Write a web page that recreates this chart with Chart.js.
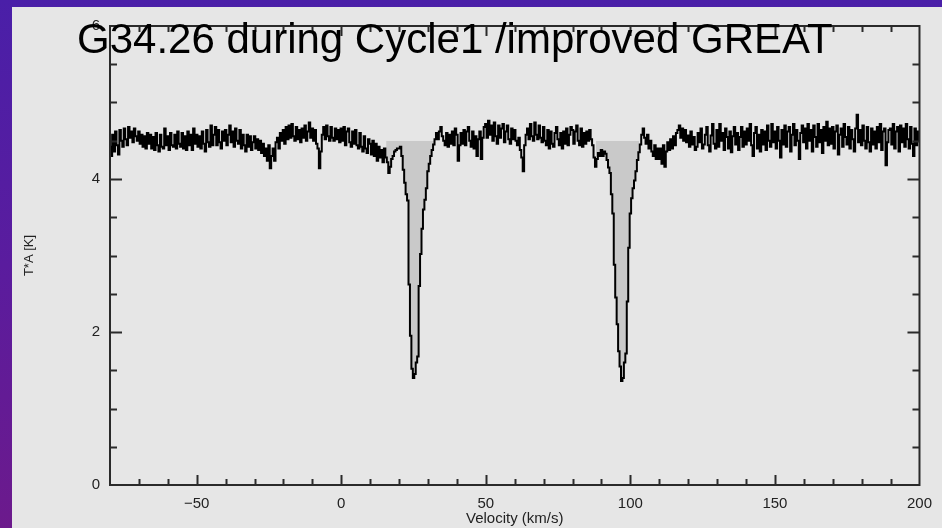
<!DOCTYPE html>
<html>
<head>
<meta charset="utf-8">
<script src="https://cdn.jsdelivr.net/npm/chart.js@4.4.1/dist/chart.umd.min.js"></script>
<style>
  html, body { margin: 0; padding: 0; overflow: hidden; }
  body {
    width: 942px; height: 528px;
    background: linear-gradient(180deg, #4a1fa8 0%, #5a1c9e 50%, #6c1a8c 100%);
    position: relative;
  }
  #spectrum { position: absolute; left: 12px; top: 7px; background: #e6e6e6; }
</style>
</head>
<body>
<canvas id="spectrum" width="930" height="521"></canvas>
<script>
// spectrum channels: -80 .. 200 km/s in 0.5 km/s steps
const velocityStart = -80;
const velocityStep = 0.5;
const tempA = [
  4.42,4.30,4.58,4.36,4.62,4.44,4.32,4.64,4.50,4.42,4.66,4.52,4.44,4.68,4.54,4.62,4.48,4.66,4.56,4.50, // -80
  4.62,4.46,4.58,4.42,4.56,4.40,4.60,4.46,4.58,4.40,4.55,4.38,4.60,4.44,4.36,4.58,4.42,4.40,4.66,4.44, // -70
  4.56,4.38,4.60,4.44,4.42,4.58,4.40,4.62,4.46,4.42,4.60,4.40,4.56,4.38,4.62,4.44,4.58,4.38,4.66,4.46, // -60
  4.58,4.42,4.56,4.40,4.62,4.46,4.36,4.64,4.48,4.42,4.70,4.44,4.58,4.68,4.44,4.64,4.48,4.40,4.62,4.50, // -50
  4.64,4.44,4.58,4.70,4.48,4.62,4.42,4.66,4.50,4.46,4.64,4.40,4.58,4.44,4.36,4.58,4.42,4.56,4.38,4.48, // -40
  4.56,4.40,4.52,4.38,4.50,4.34,4.46,4.30,4.40,4.24,4.44,4.14,4.30,4.40,4.24,4.48,4.54,4.40,4.60,4.50, // -30
  4.64,4.46,4.68,4.52,4.70,4.54,4.72,4.56,4.50,4.68,4.52,4.64,4.48,4.66,4.54,4.70,4.50,4.62,4.74,4.54, // -20
  4.66,4.50,4.64,4.46,4.40,4.14,4.36,4.58,4.68,4.52,4.70,4.56,4.50,4.68,4.54,4.50,4.66,4.52,4.64,4.48, // -10
  4.66,4.50,4.68,4.44,4.62,4.66,4.48,4.42,4.62,4.46,4.64,4.44,4.40,4.60,4.42,4.36,4.56,4.40,4.34,4.52, // 0
  4.46,4.32,4.50,4.30,4.46,4.24,4.42,4.28,4.38,4.22,4.40,4.28,4.22,4.08,4.16,4.26,4.30,4.36,4.38,4.40, // 10
  4.40,4.42,4.30,4.12,3.95,3.80,3.72,2.62,1.95,1.52,1.40,1.45,1.60,1.68,2.60,3.02,3.35,3.60,3.73,3.88, // 20
  4.10,4.20,4.30,4.38,4.45,4.52,4.60,4.52,4.62,4.68,4.56,4.50,4.44,4.60,4.42,4.58,4.46,4.62,4.44,4.66, // 30
  4.58,4.24,4.44,4.60,4.46,4.64,4.44,4.62,4.68,4.50,4.42,4.62,4.40,4.56,4.30,4.52,4.62,4.26,4.54,4.68, // 40
  4.72,4.54,4.76,4.58,4.70,4.50,4.74,4.56,4.46,4.70,4.54,4.66,4.72,4.48,4.62,4.70,4.52,4.46,4.66,4.52, // 50
  4.64,4.50,4.44,4.54,4.38,4.28,4.10,4.44,4.58,4.66,4.52,4.72,4.56,4.50,4.74,4.58,4.52,4.70,4.54,4.48, // 60
  4.68,4.50,4.44,4.64,4.40,4.62,4.46,4.42,4.60,4.68,4.52,4.44,4.60,4.40,4.62,4.46,4.66,4.44,4.58,4.68, // 70
  4.64,4.46,4.62,4.70,4.50,4.44,4.66,4.42,4.60,4.46,4.62,4.50,4.64,4.52,4.44,4.28,4.16,4.26,4.34,4.30, // 80
  4.38,4.30,4.36,4.33,4.25,4.15,4.08,3.80,3.55,2.88,2.45,2.10,1.75,1.55,1.36,1.40,1.60,1.72,2.40,3.10, // 90
  3.55,3.75,3.88,3.98,4.10,4.25,4.35,4.45,4.58,4.66,4.54,4.46,4.58,4.40,4.50,4.36,4.30,4.44,4.26,4.40, // 100
  4.26,4.40,4.20,4.44,4.16,4.36,4.48,4.38,4.52,4.40,4.56,4.44,4.60,4.64,4.70,4.54,4.66,4.50,4.64,4.48, // 110
  4.57,4.42,4.62,4.45,4.55,4.38,4.42,4.60,4.48,4.66,4.40,4.45,4.58,4.68,4.44,4.36,4.57,4.72,4.46,4.40, // 120
  4.64,4.42,4.72,4.50,4.60,4.38,4.66,4.55,4.40,4.62,4.35,4.56,4.68,4.45,4.60,4.38,4.55,4.68,4.42,4.62, // 130
  4.45,4.66,4.50,4.72,4.44,4.30,4.60,4.68,4.40,4.58,4.36,4.64,4.45,4.62,4.38,4.70,4.50,4.42,4.72,4.48, // 140
  4.62,4.40,4.68,4.50,4.28,4.64,4.45,4.70,4.42,4.62,4.68,4.36,4.58,4.72,4.44,4.64,4.50,4.26,4.60,4.70, // 150
  4.48,4.66,4.40,4.72,4.50,4.64,4.36,4.70,4.55,4.42,4.72,4.48,4.64,4.34,4.68,4.50,4.75,4.44,4.66,4.46, // 160
  4.68,4.40,4.62,4.70,4.32,4.58,4.66,4.42,4.72,4.55,4.45,4.68,4.40,4.64,4.52,4.36,4.66,4.84,4.48,4.64, // 170
  4.44,4.70,4.50,4.40,4.68,4.48,4.36,4.66,4.45,4.62,4.40,4.68,4.48,4.72,4.38,4.62,4.66,4.18,4.48,4.64, // 180
  4.66,4.45,4.72,4.40,4.62,4.68,4.36,4.70,4.48,4.66,4.42,4.72,4.52,4.40,4.68,4.46,4.30,4.66,4.44,4.62, // 190
  4.50
];

// shaded line windows (km/s) and the level they are shaded up to
const lineWindows = [[15.5, 32.5], [88, 103]];
const shadeLevel = 4.5;

const xTickLabels = [-50, 0, 50, 100, 150, 200];
const yTickLabels = [0, 2, 4, 6];
const xMinorStep = 10;
const yMinorStep = 0.5;

const titleText = 'G34.26 during Cycle1 /improved GREAT';

const points = tempA.map((t, i) => ({ x: velocityStart + i * velocityStep, y: t }));

const shadeSets = lineWindows.map(w => ({
    data: points.filter(p => p.x >= w[0] && p.x <= w[1]),
    stepped: 'middle',
    borderWidth: 0,
    pointRadius: 0,
    fill: { target: { value: shadeLevel }, above: 'rgba(0,0,0,0)', below: '#c9c9c9' },
    order: 1
}));

const framePlugin = {
    id: 'frame',
    afterDraw(chart) {
        const { ctx, chartArea: a, scales: { x, y } } = chart;
        ctx.save();
        ctx.strokeStyle = '#2a2a2a';
        ctx.lineWidth = 2;
        ctx.strokeRect(a.left, a.top, a.right - a.left, a.bottom - a.top);
        ctx.beginPath();
        for (let v = x.min + xMinorStep; v < x.max; v += xMinorStep) {
            const px = Math.round(x.getPixelForValue(v)) + 0.5;
            const len = v % 50 === 0 ? 10 : 6;
            ctx.moveTo(px, a.bottom); ctx.lineTo(px, a.bottom - len);
            ctx.moveTo(px, a.top); ctx.lineTo(px, a.top + len);
        }
        for (let v = y.min + yMinorStep; v < y.max; v += yMinorStep) {
            const py = Math.round(y.getPixelForValue(v)) + 0.5;
            const len = v % 2 === 0 ? 12 : 7;
            ctx.moveTo(a.left, py); ctx.lineTo(a.left + len, py);
            ctx.moveTo(a.right, py); ctx.lineTo(a.right - len, py);
        }
        ctx.stroke();
        // big title sits over the top of the frame
        ctx.fillStyle = '#000';
        ctx.font = '42px "Liberation Sans", Arial, sans-serif';
        ctx.textBaseline = 'alphabetic';
        ctx.textAlign = 'left';
        ctx.fillText(titleText, 65, 46);
        ctx.restore();
    }
};

const ctx = document.getElementById('spectrum').getContext('2d');
new Chart(ctx, {
    type: 'line',
    data: {
        datasets: [{
            data: points,
            stepped: 'middle',
            borderColor: '#000',
            borderWidth: 2,
            pointRadius: 0,
            fill: false,
            order: 0
        }, ...shadeSets]
    },
    options: {
        responsive: false,
        animation: false,
        events: [],
        layout: { padding: { top: 15, right: 12, left: 0, bottom: 0 } },
        plugins: { legend: { display: false }, tooltip: { enabled: false } },
        scales: {
            x: {
                type: 'linear',
                min: -80,
                max: 200,
                afterBuildTicks: s => { s.ticks = xTickLabels.map(v => ({ value: v })); },
                afterFit: s => { s.height = 43; },
                grid: { display: false, drawTicks: false },
                border: { display: false },
                ticks: {
                    padding: 10,
                    color: '#222',
                    font: { family: '"Liberation Sans", Arial, sans-serif', size: 15 },
                    callback: v => String(v).replace('-', '\u2212')
                },
                title: {
                    display: true,
                    text: 'Velocity (km/s)',
                    color: '#222',
                    font: { family: '"Liberation Sans", Arial, sans-serif', size: 15 },
                    padding: { top: -4, bottom: 0 }
                }
            },
            y: {
                min: 0,
                max: 6,
                afterBuildTicks: s => { s.ticks = yTickLabels.map(v => ({ value: v })); },
                afterFit: s => { s.width = 98; },
                grid: { display: false, drawTicks: false },
                border: { display: false },
                ticks: {
                    padding: 10,
                    color: '#222',
                    font: { family: '"Liberation Sans", Arial, sans-serif', size: 15 }
                },
                title: {
                    display: true,
                    text: 'T*A [K]',
                    color: '#222',
                    font: { family: '"Liberation Sans", Arial, sans-serif', size: 13 },
                    padding: { top: 10, bottom: 0 }
                }
            }
        }
    },
    plugins: [framePlugin]
});
</script>
</body>
</html>
